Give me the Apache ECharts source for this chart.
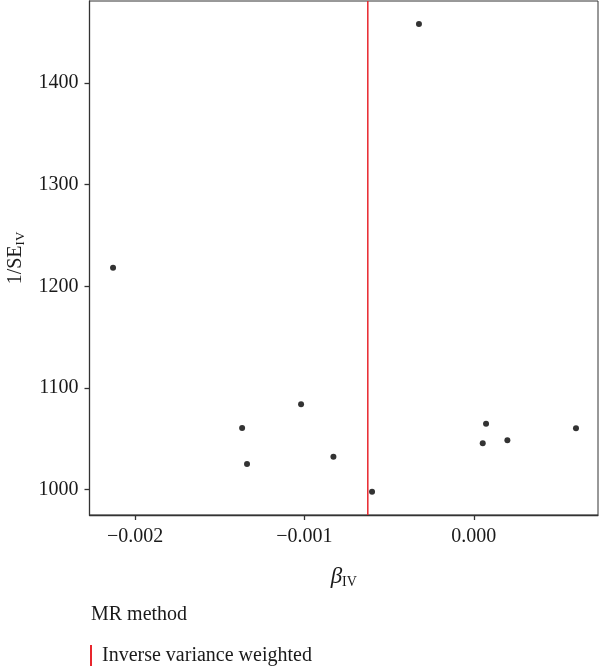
<!DOCTYPE html>
<html><head><meta charset="utf-8">
<script src="https://cdn.jsdelivr.net/npm/echarts@6/dist/echarts.min.js"></script>
<style>html,body{margin:0;padding:0;background:#fff}#c{width:600px;height:666px}</style>
</head><body><div id="c"></div>
<script>
const betaIV = [-0.00213, -0.001368, -0.001339, -0.00102, -0.000829, -0.000601, -0.000324, 0.0000525, 0.000072, 0.000198, 0.000603];
const invSE = [1218.3, 1060.5, 1025.1, 1083.9, 1032.3, 997.8, 1458.2, 1045.5, 1064.8, 1048.4, 1060.2];
const ivwEstimate = -0.000626;
const xTicks = [-0.002, -0.001, 0.0];
const yTicks = [1000, 1100, 1200, 1300, 1400];
const methodName = 'Inverse variance weighted';

const xMin = -0.002269, xMax = 0.000733;
const yMin = 974.9, yMax = 1480.8;
const font = '"Liberation Serif", "DejaVu Serif", serif';
const red = '#e8262d';
const chart = echarts.init(document.getElementById('c'), null, {renderer: 'canvas'});
const points = betaIV.map((b, i) => [b, invSE[i]]);
chart.setOption({
  animation: false,
  backgroundColor: '#fff',
  textStyle: {fontFamily: font},
  grid: {left: 89.5, right: 2, top: 1, bottom: 151, show: true, borderColor: '#333', borderWidth: 1,
    containLabel: false, outerBoundsMode: 'none'},
  title: {text: 'MR method', left: 86, top: 600, textStyle: {fontFamily: font, fontSize: 20, fontWeight: 'normal', color: '#1a1a1a'}},
  legend: {
    left: 85, top: 640, orient: 'vertical',
    data: [{name: methodName, icon: 'rect'}],
    itemWidth: 2, itemHeight: 21, itemGap: 10,
    textStyle: {fontFamily: font, fontSize: 20, color: '#1a1a1a', padding: [0, 0, 0, 5]}
  },
  xAxis: {
    type: 'value', min: xMin, max: xMax,
    splitLine: {show: false},
    axisLine: {onZero: false, lineStyle: {color: '#333', width: 1.3}},
    axisTick: {show: true, length: 5, lineStyle: {color: '#333', width: 1.3},
      customValues: xTicks},
    axisLabel: {customValues: xTicks, fontFamily: font, fontSize: 20, color: '#1a1a1a', margin: 12,
      formatter: v => (v < 0 ? '\u2212' : '') + Math.abs(v).toFixed(3)},
    name: '{b|\u03b2}{s|IV}', nameLocation: 'middle', nameGap: 50,
    nameTextStyle: {rich: {
      b: {fontFamily: font, fontSize: 23, fontStyle: 'italic', color: '#1a1a1a'},
      s: {fontFamily: font, fontSize: 14, color: '#1a1a1a', padding: [10, 0, 0, 0]}
    }}
  },
  yAxis: {
    type: 'value', min: yMin, max: yMax,
    splitLine: {show: false},
    axisLine: {onZero: false, lineStyle: {color: '#333', width: 1.3}},
    axisTick: {show: true, length: 5, lineStyle: {color: '#333', width: 1.3}, customValues: yTicks},
    axisLabel: {customValues: yTicks, fontFamily: font, fontSize: 20, color: '#1a1a1a', margin: 11,
      formatter: v => String(v)},
    name: '{a|1/SE}{s|IV}', nameLocation: 'middle', nameGap: 62, nameRotate: 90,
    nameTextStyle: {rich: {
      a: {fontFamily: font, fontSize: 20, color: '#1a1a1a'},
      s: {fontFamily: font, fontSize: 13, color: '#1a1a1a', padding: [11, 0, 0, 0]}
    }}
  },
  series: [
    {type: 'line', name: methodName, data: [[ivwEstimate, yMin], [ivwEstimate, yMax]],
      symbol: 'none', silent: true, z: 2,
      itemStyle: {color: red}, lineStyle: {color: red, width: 1.5}},
    {type: 'scatter', name: 'SNP', data: points, symbol: 'circle', symbolSize: 6,
      itemStyle: {color: '#000'}, z: 3}
  ]
});
</script></body></html>
